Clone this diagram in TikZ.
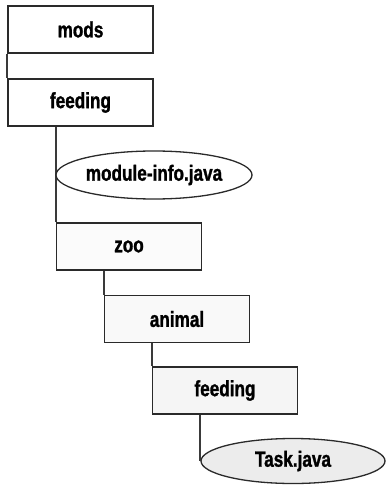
\documentclass[tikz,border=0pt]{standalone}
\usepackage{fontspec}
\newfontfamily\lbl{Liberation Sans}[FakeStretch=0.78,FakeBold=1.2]
\usetikzlibrary{shapes.geometric}
\definecolor{edge}{HTML}{2A2A2A}
\definecolor{wire}{HTML}{3A3A3A}
\tikzset{
  dirbox/.style={rectangle, draw=edge, line width=1.3pt, minimum width=145pt, minimum height=47pt, inner sep=0pt,
    font=\lbl\bfseries\fontsize{22}{26}\selectfont},
  filebox/.style={ellipse, draw=edge, line width=1.3pt, inner sep=0pt,
    font=\lbl\bfseries\fontsize{22}{26}\selectfont},
  wireline/.style={draw=wire, line width=1.8pt}
}
\begin{document}
\begin{tikzpicture}[x=1pt,y=-1pt]
\useasboundingbox (0,0) rectangle (386,486);
\node[dirbox, fill=white] (mods) at (80.5,29.5) {mods};
\node[dirbox, fill=white] (feed) at (80.5,102.5) {feeding};
\node[dirbox, fill=gray!3] (zoo) at (129,246.5) {zoo};
\node[dirbox, fill=gray!5] (animal) at (177,319) {animal};
\node[dirbox, fill=gray!8] (feed2) at (225,390.5) {feeding};
\draw[wireline] (mods.south west) -- (feed.north west);
\draw[wireline] (zoo.north west |- feed.south) -- (zoo.north west);
\draw[wireline] (animal.north west |- zoo.south) -- (animal.north west);
\draw[wireline] (feed2.north west |- animal.south) -- (feed2.north west);
\node[filebox, fill=white, minimum width=196pt, minimum height=48pt] (modinfo) at (154,175) {module-info.java};
\node[filebox, fill=gray!15, minimum width=184pt, minimum height=45pt] (task) at (293,461) {Task.java};
\draw[wireline] (task.west |- feed2.south) -- (task.west);
\end{tikzpicture}
\end{document}
